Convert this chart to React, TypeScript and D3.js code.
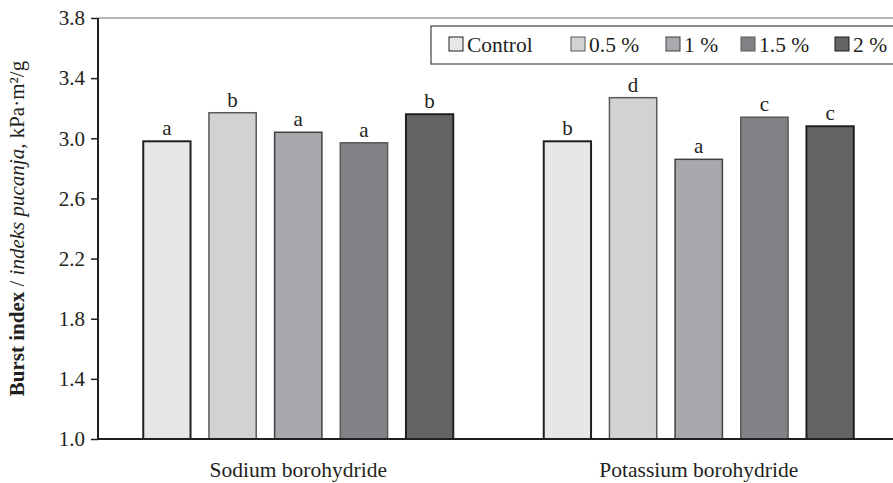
import { useRef, useEffect } from 'react';
import * as d3 from 'd3';

const categories = ['Sodium borohydride', 'Potassium borohydride'];
const series = ['Control', '0.5 %', '1 %', '1.5 %', '2 %'];
const values = [
  [2.98, 3.17, 3.04, 2.97, 3.16],
  [2.98, 3.27, 2.86, 3.14, 3.08],
];
const letters = [
  ['a', 'b', 'a', 'a', 'b'],
  ['b', 'd', 'a', 'c', 'c'],
];
const yTicks = [1.0, 1.4, 1.8, 2.2, 2.6, 3.0, 3.4, 3.8];

const FILLS = ['#e6e7e8', '#d1d2d4', '#a7a9ac', '#808285', '#636466'];
const STROKES = ['#231f20', '#58595b', '#414042', '#58595b', '#231f20'];
const FONT = '"Liberation Serif", "Times New Roman", serif';

const W = 893;
const H = 483;
const M = { top: 18, right: -6, bottom: 44, left: 98 };

export default function App() {
  const svgRef = useRef<SVGSVGElement>(null);

  useEffect(() => {
    const svg = d3.select(svgRef.current);
    svg.selectAll('*').remove();

    const x0 = d3.scaleBand().domain(categories).range([M.left, W - M.right]);
    const x1 = d3.scaleBand().domain(series).range([-155, 155]).paddingInner(0.28);
    const y = d3.scaleLinear().domain([1.0, 3.8]).range([H - M.bottom, M.top]);

    // top frame line
    svg.append('line')
      .attr('x1', M.left).attr('x2', W)
      .attr('y1', y(3.8)).attr('y2', y(3.8))
      .attr('stroke', '#6d6e71').attr('stroke-width', 1.2);

    // bars
    categories.forEach((cat, ci) => {
      const cx = (x0(cat) as number) + x0.bandwidth() / 2;
      const g = svg.append('g').attr('transform', `translate(${cx},0)`);
      series.forEach((s, si) => {
        const v = values[ci][si];
        g.append('rect')
          .attr('x', x1(s) as number)
          .attr('y', y(v))
          .attr('width', x1.bandwidth())
          .attr('height', y(1.0) - y(v))
          .attr('fill', FILLS[si])
          .attr('stroke', STROKES[si])
          .attr('stroke-width', si === 0 || si === 4 ? 2 : 1.5);
        g.append('text')
          .attr('x', (x1(s) as number) + x1.bandwidth() / 2)
          .attr('y', y(v) - 6)
          .attr('text-anchor', 'middle')
          .attr('font-family', FONT)
          .attr('font-size', 21)
          .attr('fill', '#231f20')
          .text(letters[ci][si]);
      });
    });

    // y axis
    svg.append('g')
      .attr('transform', `translate(${M.left},0)`)
      .call(d3.axisLeft(y).tickValues(yTicks).tickSize(7).tickPadding(6).tickFormat(d3.format('.1f')))
      .call(g => g.select('.domain').attr('stroke', '#231f20').attr('stroke-width', 2).attr('d', `M0,${y(3.8)}V${y(1.0)}`))
      .call(g => g.selectAll('.tick line').attr('stroke', '#231f20').attr('stroke-width', 1.5))
      .call(g => g.selectAll('.tick text').attr('fill', '#231f20').attr('font-size', 21).attr('font-family', FONT));

    // x axis line
    svg.append('line')
      .attr('x1', M.left - 1).attr('x2', W)
      .attr('y1', y(1.0)).attr('y2', y(1.0))
      .attr('stroke', '#231f20').attr('stroke-width', 2);

    // category labels
    svg.append('g')
      .selectAll('text')
      .data(categories)
      .join('text')
      .attr('x', d => (x0(d) as number) + x0.bandwidth() / 2)
      .attr('y', y(1.0) + 38)
      .attr('text-anchor', 'middle')
      .attr('font-family', FONT)
      .attr('font-size', 21.5)
      .attr('fill', '#231f20')
      .text(d => d);

    // y label
    const yl = svg.append('text')
      .attr('transform', `translate(24,${(y(1.0) + y(3.8)) / 2}) rotate(-90)`)
      .attr('text-anchor', 'middle')
      .attr('font-family', FONT)
      .attr('font-size', 21)
      .attr('fill', '#231f20');
    yl.append('tspan').attr('font-weight', 'bold').text('Burst index');
    yl.append('tspan').text(' / ');
    yl.append('tspan').attr('font-style', 'italic').text('indeks pucanja,');
    yl.append('tspan').text(' kPa·m²/g');

    // legend
    const lg = svg.append('g').attr('transform', 'translate(431,26)');
    lg.append('rect')
      .attr('width', 480).attr('height', 38)
      .attr('fill', '#fff').attr('stroke', '#414042').attr('stroke-width', 1.2);
    const legendX = [18, 140, 235, 310, 404];
    series.forEach((s, i) => {
      const it = lg.append('g').attr('transform', `translate(${legendX[i]},11)`);
      it.append('rect')
        .attr('width', 14).attr('height', 14)
        .attr('fill', FILLS[i])
        .attr('stroke', STROKES[i]).attr('stroke-width', 1);
      it.append('text')
        .attr('x', 18).attr('y', 15)
        .attr('font-family', FONT)
        .attr('font-size', 21.5)
        .attr('fill', '#231f20')
        .text(s);
    });
  }, []);

  return (
    <svg ref={svgRef} width={W} height={H}
      style={{ position: 'absolute', left: 0, top: 0, background: '#fff' }} />
  );
}
